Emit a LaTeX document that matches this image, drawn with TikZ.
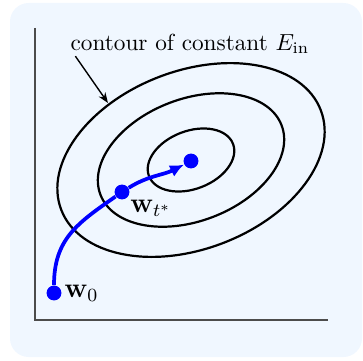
\documentclass[tikz,border=0pt]{standalone}
\usepackage{amsmath}
\usepackage{xcolor}
\usepackage{tikz}
\usetikzlibrary{arrows.meta,positioning,calc}
\definecolor{panelblue}{RGB}{240,247,255}
\tikzset{
  panel/.style={fill=panelblue, rounded corners=8pt},
  axisline/.style={draw=black!70, line width=0.55pt},
  contour/.style={draw, line width=0.95pt},
  wdot/.style={circle, fill=blue, inner sep=0pt, minimum size=6.4pt},
  wpath/.style={-{Latex[length=6pt,width=5.4pt]}, blue, line width=1.6pt},
  pointer/.style={-{Stealth[length=4.5pt,width=3.4pt]}, semithick},
  wlabel/.style={inner sep=1pt, font=\large},
}

\begin{document}
\begin{tikzpicture}[x=0.43pt, y=0.43pt, node distance=2pt]
  \useasboundingbox (0,0) rectangle (363,360);
  \fill[panel] (10,3) rectangle (362,357);
  % axes
  \coordinate (ytop) at (35,332);
  \coordinate (orig) at (35,40);
  \coordinate (xend) at (328,40);
  \draw[axisline] (ytop) -- (orig) -- (xend);
  % contours
  \coordinate (ctr) at (191,200);
  \draw[contour] (ctr) ellipse [x radius=139, y radius=89, rotate=21];
  \draw[contour] (ctr) ellipse [x radius=97, y radius=61, rotate=21];
  \draw[contour] (ctr) ellipse [x radius=45, y radius=29, rotate=21];
  \node (lbl) at (190,316) {contour of constant $E_{\text{in}}$};
  \coordinate (ctip) at (108,257);
  \draw[pointer] ($(lbl.south west)+(13,6)$) -- (ctip);
  % descent path
  \node[wdot] (w0) at (54,67) {};
  \node[wdot] (wt) at (122,168) {};
  \node[wdot] (wend) at (191,199) {};
  \draw[wpath] (w0) to[out=90, in=-145, looseness=1.1] (wt) to[out=32, in=-153] (wend);
  \node[wlabel, right=0pt of w0] (w0lbl) {$\mathbf{w}_0$};
  \node[wlabel, below right=0pt and 0pt of wt] (wtlbl) {$\mathbf{w}_{t^*}$};
\end{tikzpicture}
\end{document}
